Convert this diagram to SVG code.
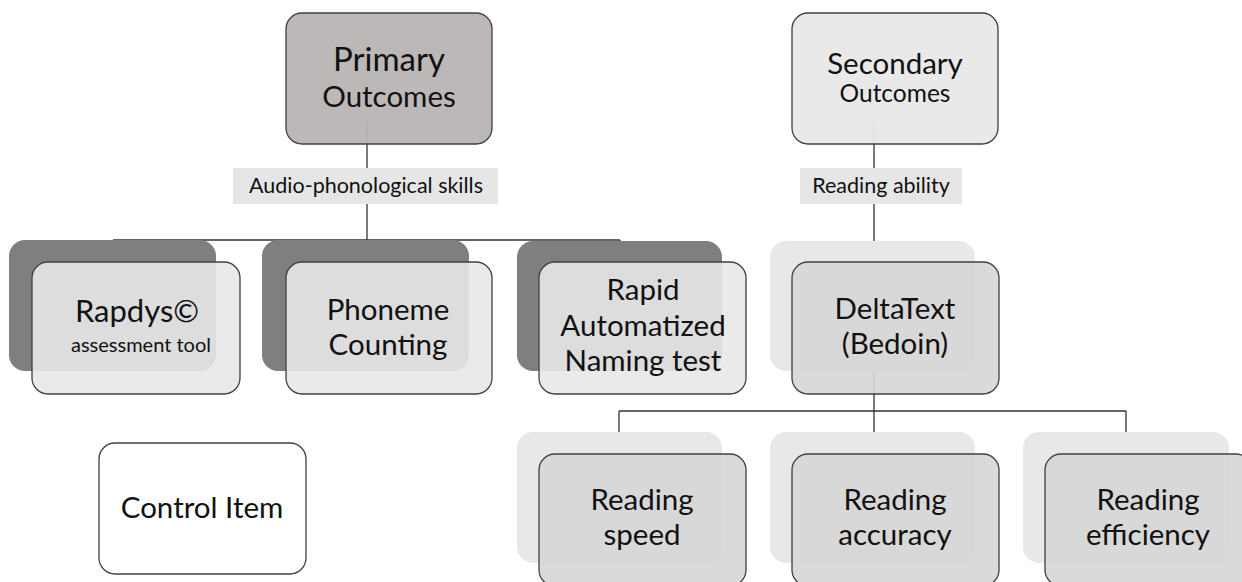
<svg xmlns="http://www.w3.org/2000/svg" width="1242" height="582" viewBox="0 0 1242 582">
<style>
text{font-family:Lato,"Liberation Sans",sans-serif;fill:#111;text-anchor:middle}
.big{font-size:29.5px}
.mid{font-size:24.5px}
.sm{font-size:21.5px}
.con{stroke:#333;stroke-width:1.3;fill:none}
.front{stroke:#404040;stroke-width:1.3}
.lab{fill:#e6e6e6}
</style>
<rect width="1242" height="582" fill="#fff"/>
<g id="connectors">
<path class="con" d="M367 122V168M367 204V262M113 240H620M113 240V262M620 240V262"/>
<path class="con" d="M874 122V168M874 204V262"/>
<path class="con" d="M874 372V432M619 411H1126M619 411V432M1126 411V432"/>
</g>
<g id="primary">
<rect x="286" y="13" width="206" height="131" rx="16" fill="#b8b4b3" fill-opacity="0.95" class="front"/>
<text x="389" y="71" style="font-size:33px">Primary</text>
<text x="389" y="107" style="font-size:29.5px">Outcomes</text>
</g>
<g id="label-audio">
<rect class="lab" x="233" y="168" width="265" height="36"/>
<text class="sm" x="366" y="193">Audio-phonological skills</text>
</g>
<g id="secondary">
<rect x="792" y="13" width="206" height="131" rx="16" fill="#e8e8e8" fill-opacity="0.95" class="front"/>
<text x="895" y="74" style="font-size:29.5px">Secondary</text>
<text class="mid" x="895" y="102">Outcomes</text>
</g>
<g id="label-reading">
<rect class="lab" x="800" y="168" width="162" height="36"/>
<text class="sm" x="881" y="193">Reading ability</text>
</g>
<g id="rapdys">
<rect x="9" y="240" width="207" height="131" rx="16" fill="#7f7f7f"/>
<rect x="32" y="262" width="208" height="132" rx="16" fill="#e8e8e8" fill-opacity="0.9" class="front"/>
<text x="137" y="322" style="font-size:31px">Rapdys©</text>
<text x="141" y="352" style="font-size:20px">assessment tool</text>
</g>
<g id="phoneme">
<rect x="262" y="240" width="207" height="131" rx="16" fill="#7f7f7f"/>
<rect x="286" y="262" width="206" height="132" rx="16" fill="#e8e8e8" fill-opacity="0.9" class="front"/>
<text class="big" x="388" y="320">Phoneme</text>
<text class="big" x="388" y="355">Counting</text>
</g>
<g id="ran">
<rect x="517" y="241" width="205" height="130" rx="16" fill="#7f7f7f"/>
<rect x="539" y="262" width="207" height="132" rx="16" fill="#e8e8e8" fill-opacity="0.9" class="front"/>
<text class="big" x="643" y="300">Rapid</text>
<text class="big" x="643" y="336">Automatized</text>
<text class="big" x="643" y="371">Naming test</text>
</g>
<g id="deltatext">
<rect x="770" y="241" width="205" height="130" rx="16" fill="#e8e8e8"/>
<rect x="792" y="262" width="207" height="132" rx="16" fill="#d6d6d6" fill-opacity="0.9" class="front"/>
<text class="big" x="895" y="319">DeltaText</text>
<text class="big" x="895" y="354">(Bedoin)</text>
</g>
<g id="speed">
<rect x="517" y="432" width="205" height="131" rx="16" fill="#e8e8e8"/>
<rect x="539" y="454" width="207" height="132" rx="16" fill="#d6d6d6" fill-opacity="0.9" class="front"/>
<text class="big" x="642" y="510">Reading</text>
<text class="big" x="642" y="545">speed</text>
</g>
<g id="accuracy">
<rect x="770" y="432" width="205" height="131" rx="16" fill="#e8e8e8"/>
<rect x="792" y="454" width="207" height="132" rx="16" fill="#d6d6d6" fill-opacity="0.9" class="front"/>
<text class="big" x="895" y="510">Reading</text>
<text class="big" x="895" y="545">accuracy</text>
</g>
<g id="efficiency">
<rect x="1023" y="432" width="206" height="131" rx="16" fill="#e8e8e8"/>
<rect x="1045" y="454" width="207" height="132" rx="16" fill="#d6d6d6" fill-opacity="0.9" class="front"/>
<text class="big" x="1148" y="510">Reading</text>
<text class="big" x="1148" y="545">efficiency</text>
</g>
<g id="control">
<rect x="99" y="443" width="207" height="131" rx="16" fill="#fff" class="front"/>
<text class="big" x="202" y="518">Control Item</text>
</g>
</svg>
